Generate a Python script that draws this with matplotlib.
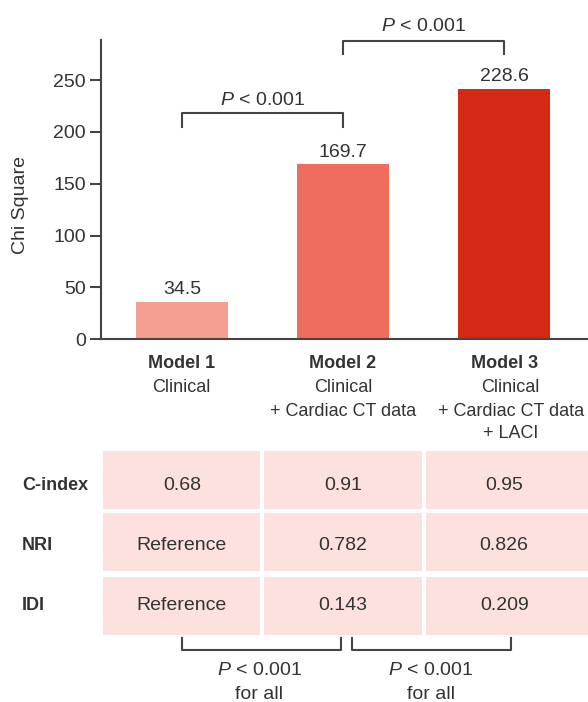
import matplotlib
matplotlib.use("Agg")
import matplotlib.pyplot as plt
from matplotlib.patches import Rectangle

plt.rcParams['font.family'] = ['Liberation Sans', 'DejaVu Sans']
plt.rcParams['mathtext.fontset'] = 'custom'
plt.rcParams['mathtext.it'] = 'Liberation Sans:italic'
plt.rcParams['mathtext.rm'] = 'Liberation Sans'

# ---------------- data ----------------
model_names = ["Model 1", "Model 2", "Model 3"]
model_desc = [["Clinical"],
              ["Clinical", "+ Cardiac CT data"],
              ["Clinical", "+ Cardiac CT data", "+ LACI"]]
bar_heights = [36.3, 168.7, 241.6]          # heights as drawn
value_labels = ["34.5", "169.7", "228.6"]   # printed values
bar_colors = ["#f49f92", "#ef6d5e", "#d42a15"]
yticks = [0, 50, 100, 150, 200, 250]
row_names = ["C-index", "NRI", "IDI"]
table_values = [["0.68", "0.91", "0.95"],
                ["Reference", "0.782", "0.826"],
                ["Reference", "0.143", "0.209"]]
p_text = r"$\it{P}$ < 0.001"

TXT = "#333333"
LN = "#444444"
W, H = 588, 702
fig = plt.figure(figsize=(W / 100, H / 100), dpi=100)

# ---------------- bar chart ----------------
ax_left, ax_right, ax_bot, ax_top = 101.2, 588, 339.3, 40
ax = fig.add_axes([ax_left / W, (H - ax_bot) / H, (ax_right - ax_left) / W, (ax_bot - ax_top) / H])
x = list(range(len(model_names)))
ax.bar(x, bar_heights, width=0.57, color=bar_colors)
ax.set_xlim(-0.5, 2.52)
ax.set_ylim(0, 288.6)
ax.set_yticks(yticks)
ax.set_xticks([])
ax.tick_params(axis='y', labelsize=14, length=8, width=1.5, colors=LN, labelcolor=TXT, pad=3)
for s in ["top", "right"]:
    ax.spines[s].set_visible(False)
for s in ["left", "bottom"]:
    ax.spines[s].set_linewidth(1.5)
    ax.spines[s].set_color(LN)

for xi, h, lab in zip(x, bar_heights, value_labels):
    ax.annotate(lab, (xi, h), xytext=(0, 5.4), textcoords='offset points',
                ha='center', va='baseline', fontsize=14, color=TXT)

def bracket_up(a, b, y0, y1, ty):
    ax.plot([a, a, b, b], [y0, y1, y1, y0], color=LN, lw=1.5, clip_on=False)
    ax.text((a + b) / 2, ty, p_text, ha='center', va='baseline', fontsize=14, color=TXT)

bracket_up(0, 1, 204.4, 217.9, 226.2)
bracket_up(1, 2, 274.8, 287.9, 297.0)

fig.text(20.6 / W, (H - 205) / H, "Chi Square", rotation=90, ha='center', va='center',
         fontsize=14, color=TXT)

# ---------------- lower panel (pixel y coordinates) ----------------
lo_top = 345
lx = fig.add_axes([ax_left / W, 0, (ax_right - ax_left) / W, (H - lo_top) / H])
lx.set_xlim(-0.5, 2.52)
lx.set_ylim(H, lo_top)
lx.axis('off')

line_y = [392.2, 416.5, 438.2]
desc_shift = [0, 0, 0.04]
for xi, name, desc, sh in zip(x, model_names, model_desc, desc_shift):
    lx.text(xi, 368.2, name, ha='center', va='baseline', fontsize=13, fontweight='bold', color=TXT)
    for k, line in enumerate(desc):
        lx.text(xi + sh, line_y[k], line, ha='center', va='baseline', fontsize=13, color=TXT)

row_top = [450.7, 513.3, 576.7]
row_h = 57.8
row_text = [489.7, 550.3, 610.3]
for r, name in enumerate(row_names):
    fig.text(22 / W, (H - row_text[r]) / H, name, ha='left', va='baseline',
             fontsize=13, fontweight='bold', color=TXT)
    for c in range(3):
        lx.add_patch(Rectangle((c - 0.488, row_top[r]), 0.976 if c < 2 else 1.5, row_h,
                               facecolor="#fce1de", edgecolor='none'))
        lx.text(c, row_text[r], table_values[r][c], ha='center', va='baseline',
                fontsize=14, color=TXT)

def bracket_down(a, b, y0, y1, tx):
    lx.plot([a, a, b, b], [y0, y1, y1, y0], color=LN, lw=1.5, clip_on=False)
    lx.text(tx, 675.3, p_text, ha='center', va='baseline', fontsize=14, color=TXT)
    lx.text(tx, 698.7, "for all", ha='center', va='baseline', fontsize=14, color=TXT)

bracket_down(0, 0.99, 637.7, 650, 0.48)
bracket_down(1.053, 2.044, 637.7, 650, 1.545)

fig.savefig("out.png", dpi=100)
